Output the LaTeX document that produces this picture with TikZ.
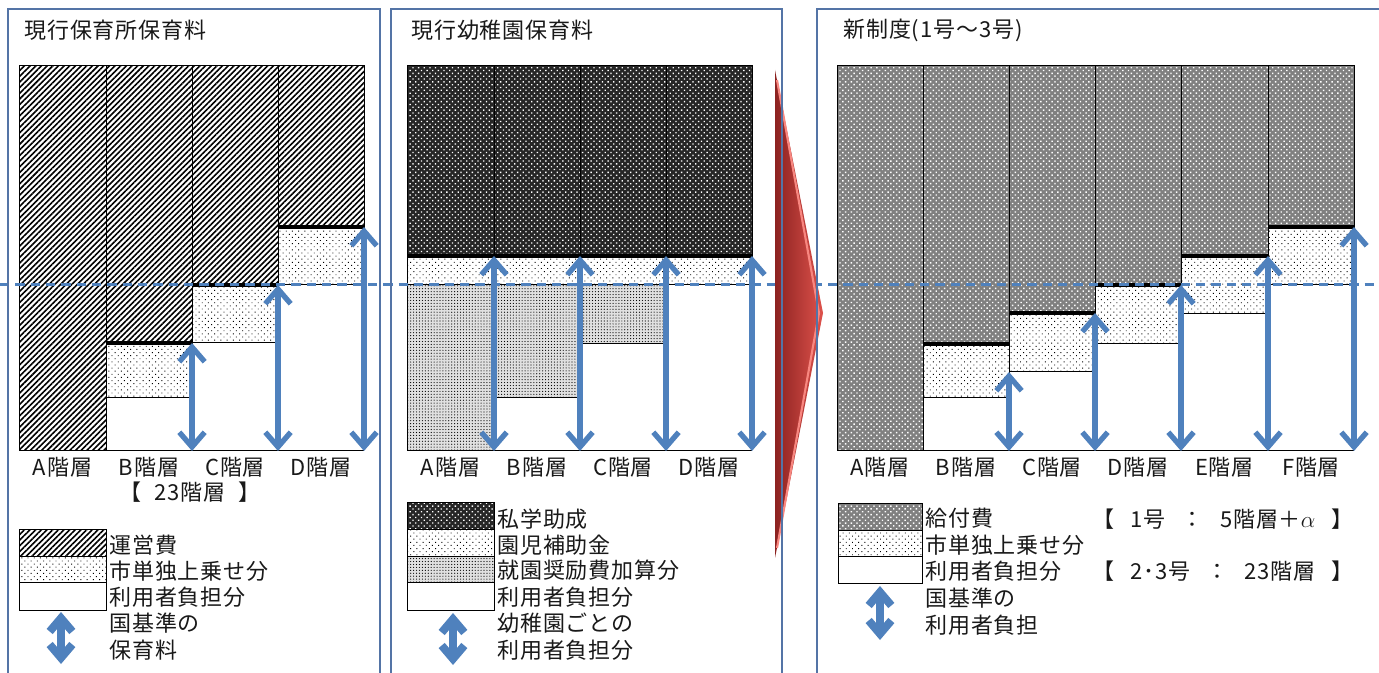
\documentclass[tikz,border=0pt]{standalone}
\usepackage{fontspec}
\setmainfont{Noto Sans CJK JP}[LetterSpace=4]
\usetikzlibrary{patterns,patterns.meta,arrows.meta}
\definecolor{frameblue}{RGB}{84,116,166}
\definecolor{arrblue}{RGB}{79,129,189}
\definecolor{redA}{RGB}{140,34,32}
\definecolor{redB}{RGB}{222,82,76}
\definecolor{redC}{RGB}{248,135,128}
\tikzset{
  frameline/.style={draw=frameblue,line width=0.9pt},
  outl/.style={draw=black,line width=0.75pt},
  thickl/.style={draw=black,line width=2.4pt},
  hatchfill/.style={fill=white,postaction={pattern={Lines[angle=45,distance=3pt,line width=1.2pt]},pattern color=black}},
  darkcheck/.style={fill=black!85,postaction={pattern={Dots[angle=45,distance=3pt,radius=0.7pt]},pattern color=white}},
  greycheck/.style={fill=black!50,postaction={pattern={Dots[angle=45,distance=3pt,radius=0.75pt]},pattern color=white}},
  sparsedots/.style={fill=white,postaction={pattern={Dots[angle=45,distance=3.3pt,radius=0.5pt]},pattern color=black}},
  greydots/.style={fill=black!12,postaction={pattern={Dots[distance=2.2pt,radius=0.45pt]},pattern color=black}},
  dbl/.style={draw=arrblue,line width=4pt,{Straight Barb[length=11pt,width=19pt]}-{Straight Barb[length=11pt,width=19pt]}},
  legarrow/.style={draw=arrblue,line width=6pt,{Straight Barb[length=10pt,width=17pt]}-{Straight Barb[length=10pt,width=17pt]}},
  lab/.style={inner sep=0pt,font=\fontsize{16.5pt}{19pt}\selectfont,text=black!90},
  leg/.style={lab,anchor=west},
  dashline/.style={draw=arrblue,line width=1.9pt,dash pattern=on 7pt off 4.5pt},
}
\begin{document}
\begin{tikzpicture}[x=0.75pt,y=-0.75pt]
\useasboundingbox (0,0) rectangle (1379,673);
\fill[white] (0,0) rectangle (1379,673);

% ================= Panel 1 =================
\path[hatchfill] (19,66) rectangle (106,451);
\path[hatchfill] (106,66) rectangle (192,343);
\path[sparsedots] (106,343) rectangle (192,398);
\path[hatchfill] (192,66) rectangle (278,285);
\path[sparsedots] (192,285) rectangle (278,343);
\path[hatchfill] (278,66) rectangle (364,227);
\path[sparsedots] (278,227) rectangle (364,285);
\draw[outl] (19,66) rectangle (106,451);
\draw[outl] (106,66) rectangle (192,343);
\draw[outl] (106,343) rectangle (192,398);
\draw[outl] (192,66) rectangle (278,285);
\draw[outl] (192,285) rectangle (278,343);
\draw[outl] (278,66) rectangle (364,227);
\draw[outl] (278,227) rectangle (364,285);
\draw[outl] (19,451) -- (364,451);
\draw[thickl] (106,343) -- (192,343);
\draw[thickl] (192,285) -- (278,285);
\draw[thickl] (278,227) -- (364,227);

% ================= Panel 2 =================
\foreach \xa/\xb in {407/494,494/580,580/666,666/752}{
  \path[darkcheck] (\xa,66) rectangle (\xb,256);
  \path[sparsedots] (\xa,256) rectangle (\xb,285);
  \draw[outl] (\xa,66) rectangle (\xb,256);
  \draw[outl] (\xa,256) rectangle (\xb,285);
}
\path[greydots] (407,285) rectangle (494,451);
\path[greydots] (494,285) rectangle (580,398);
\path[greydots] (580,285) rectangle (666,344);
\draw[outl] (407,285) rectangle (494,451);
\draw[outl] (494,285) rectangle (580,398);
\draw[outl] (580,285) rectangle (666,344);
\draw[outl] (407,451) -- (752,451);
\draw[thickl] (407,256) -- (752,256);

% ================= Panel 3 =================
\path[greycheck] (837,66) rectangle (923,451);
\draw[outl] (837,66) rectangle (923,451);
\foreach \xa/\xb/\ya/\yb in {923/1009/344/398,1009/1095/313/372,1095/1181/285/344,1181/1268/256/314,1268/1354/227/285}{
  \path[greycheck] (\xa,66) rectangle (\xb,\ya);
  \path[sparsedots] (\xa,\ya) rectangle (\xb,\yb);
  \draw[outl] (\xa,66) rectangle (\xb,\ya);
  \draw[outl] (\xa,\ya) rectangle (\xb,\yb);
  \draw[thickl] (\xa,\ya) -- (\xb,\ya);
}
\draw[outl] (837,451) -- (1354,451);

% ================= dashed reference line =================
\draw[dashline] (0,284.5) -- (1379,284.5);

% ================= arrows in charts =================
\draw[dbl] (192,343) -- (192,451);
\draw[dbl] (278,285) -- (278,451);
\draw[dbl] (364,227) -- (364,451);
\foreach \xx in {494,580,666,752}{ \draw[dbl] (\xx,256) -- (\xx,451); }
\draw[dbl] (1009,372) -- (1009,451);
\draw[dbl] (1095,313) -- (1095,451);
\draw[dbl] (1181,285) -- (1181,451);
\draw[dbl] (1268,256) -- (1268,451);
\draw[dbl] (1354,227) -- (1354,451);

% ================= red chevron =================
\shade[left color=redA,right color=redB] (775,70) -- (823,313) -- (775,558) -- cycle;
\draw[redC,line width=1.6pt,line join=round] (777,80) -- (819,313) -- (777,548);

% ================= frames =================
\draw[frameline] (8,673) -- (8,9) -- (380,9) -- (380,673);
\draw[frameline] (391,673) -- (391,9) -- (782,9) -- (782,673);
\draw[frameline] (817,673) -- (817,9) -- (1379,9);

% ================= titles =================
\node[leg] (t1) at (24,30) {現行保育所保育料};
\node[leg] (t2) at (411,30) {現行幼稚園保育料};
\node[leg] (t3) at (843,30) {新制度(1号～3号)};

% ================= column labels =================
\node[lab] (p1a) at (62.5,467) {A階層};
\node[lab] (p1b) at (149,467) {B階層};
\node[lab] (p1c) at (235,467) {C階層};
\node[lab] (p1d) at (321,467) {D階層};
\node[lab] (p1n) at (190,492) {\hbox to 106pt{【\hfil 23階層\hfil 】}};
\node[lab] (p2a) at (450.5,467) {A階層};
\node[lab] (p2b) at (537,467) {B階層};
\node[lab] (p2c) at (623,467) {C階層};
\node[lab] (p2d) at (709,467) {D階層};
\node[lab] (p3a) at (880,467) {A階層};
\node[lab] (p3b) at (966,467) {B階層};
\node[lab] (p3c) at (1052,467) {C階層};
\node[lab] (p3d) at (1138,467) {D階層};
\node[lab] (p3e) at (1224.5,467) {E階層};
\node[lab] (p3f) at (1311,467) {F階層};

% ================= legend panel 1 =================
\path[hatchfill] (19,530) rectangle (106,557);
\path[sparsedots] (19,557) rectangle (106,583);
\draw[outl] (19,530) rectangle (106,557);
\draw[outl] (19,557) rectangle (106,583);
\draw[outl] (19,583) rectangle (106,610);
\node[leg] (l1a) at (109,545) {運営費};
\node[leg] (l1b) at (109,571) {市単独上乗せ分};
\node[leg] (l1c) at (109,597) {利用者負担分};
\node[leg] (l1d) at (109,623) {国基準の};
\node[leg] (l1e) at (109,650) {保育料};
\draw[legarrow] (61,612) -- (61,664);

% ================= legend panel 2 =================
\path[darkcheck] (407,503) rectangle (494,530);
\path[sparsedots] (407,530) rectangle (494,557);
\path[greydots] (407,557) rectangle (494,583);
\draw[outl] (407,503) rectangle (494,530);
\draw[outl] (407,530) rectangle (494,557);
\draw[outl] (407,557) rectangle (494,583);
\draw[outl] (407,583) rectangle (494,610);
\node[leg] (l2a) at (497,519) {私学助成};
\node[leg] (l2b) at (497,545) {園児補助金};
\node[leg] (l2c) at (497,570) {就園奨励費加算分};
\node[leg] (l2d) at (497,597) {利用者負担分};
\node[leg] (l2e) at (497,623) {幼稚園ごとの};
\node[leg] (l2f) at (497,650) {利用者負担分};
\draw[legarrow] (453,613) -- (453,665);

% ================= legend panel 3 =================
\path[greycheck] (838,504) rectangle (922,531);
\path[sparsedots] (838,531) rectangle (922,557);
\draw[outl] (838,504) rectangle (922,531);
\draw[outl] (838,531) rectangle (922,557);
\draw[outl] (838,557) rectangle (922,584);
\node[leg] (l3a) at (925,518) {給付費};
\node[leg] (l3b) at (925,545) {市単独上乗せ分};
\node[leg] (l3c) at (925,571) {利用者負担分};
\node[leg] (l3d) at (925,598) {国基準の};
\node[leg] (l3e) at (925,625) {利用者負担};
\draw[legarrow] (880,586) -- (880,640);
\node[leg] (k1) at (1092,519) {\hbox to 196pt{【\hfil 1号\hfil ：\hfil 5階層＋$\alpha$\hfil 】}};
\node[leg] (k2) at (1092,571) {\hbox to 196pt{【\hfil 2･3号\hfil ：\hfil 23階層\hfil 】}};
\end{tikzpicture}
\end{document}
